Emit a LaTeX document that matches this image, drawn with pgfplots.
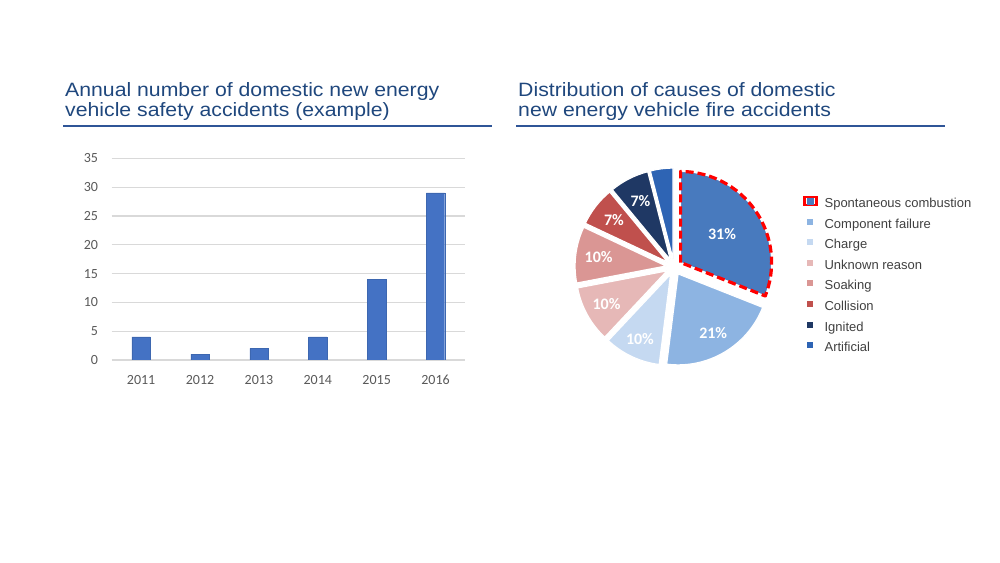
\documentclass[border=0pt]{standalone}
\usepackage{pgfplots}
\usepackage{pgfplotstable}
\pgfplotsset{compat=1.18}
\usepackage{fontspec}
\setmainfont{Carlito}
\newfontfamily\titlefont[FakeStretch=1.1]{Liberation Sans}
\newfontfamily\arial{Liberation Sans}
\newfontfamily\carlito{Carlito}
\newcommand\pielabfont{\carlito\bfseries\fontsize{16}{16}\selectfont}

\definecolor{titleblue}{RGB}{31,71,125}
\definecolor{ruleblue}{RGB}{47,85,151}
\definecolor{barblue}{RGB}{68,114,196}
\definecolor{gridgray}{RGB}{217,217,217}
\definecolor{ticktext}{RGB}{89,89,89}
\definecolor{legtext}{RGB}{64,64,64}
\definecolor{pie0}{RGB}{72,122,190}
\definecolor{pie1}{RGB}{141,180,226}
\definecolor{pie2}{RGB}{197,217,241}
\definecolor{pie3}{RGB}{230,184,183}
\definecolor{pie4}{RGB}{218,150,148}
\definecolor{pie5}{RGB}{192,80,77}
\definecolor{pie6}{RGB}{31,56,100}
\definecolor{pie7}{RGB}{46,100,180}

% accidents per year
\pgfplotstableread{
x year n
0 2011 4
1 2012 1
2 2013 2
3 2014 4
4 2015 14
5 2016 29
}\accidents

% fire causes, share in percent; lr = label distance from the slice tip
\pgfplotstableread{
share lr
31 50
21 69
10 72
10 69
10 68
7 68
7 66
4 0
}\piedata

\pgfplotsset{
  sqleg/.style={legend image code/.code={\fill[##1, draw=none] (0pt,0pt) rectangle (6pt,6pt);}},
}

\begin{document}
\begin{tikzpicture}
\useasboundingbox (0,0) rectangle (1000pt,562pt);

% titles
\node[anchor=base west, inner sep=0pt, text=titleblue, font=\titlefont\fontsize{19.3}{20}\selectfont]
  at (65pt,465.5pt) {Annual number of domestic new energy};
\node[anchor=base west, inner sep=0pt, text=titleblue, font=\titlefont\fontsize{19.3}{20}\selectfont]
  at (65pt,445.3pt) {vehicle safety accidents (example)};
\draw[ruleblue, line width=2.2pt] (63pt,436.3pt) -- (492pt,436.3pt);

\node[anchor=base west, inner sep=0pt, text=titleblue, font=\titlefont\fontsize{19.3}{20}\selectfont]
  at (518pt,465.5pt) {Distribution of causes of domestic};
\node[anchor=base west, inner sep=0pt, text=titleblue, font=\titlefont\fontsize{19.3}{20}\selectfont]
  at (518pt,445.3pt) {new energy vehicle fire accidents};
\draw[ruleblue, line width=2.2pt] (516pt,436.3pt) -- (945pt,436.3pt);

% bar chart
\begin{axis}[
  at={(111.7pt,202pt)}, anchor=south west,
  scale only axis, width=353.3pt, height=201.7pt,
  xmin=-0.5, xmax=5.5, ymin=0, ymax=35,
  ybar, bar width=18.3pt,
  xtick={0,...,5}, xticklabels={2011,2012,2013,2014,2015,2016},
  ytick={0,5,...,35},
  ymajorgrids, grid style={gridgray, line width=1.2pt},
  axis line style={draw=none}, major tick length=0pt,
  /pgf/number format/assume math mode=true,
  tick label style={font=\carlito\fontsize{14}{14}\selectfont, text=ticktext, inner sep=0pt},
  yticklabel style={xshift=-13.5pt},
  xticklabel style={yshift=-15pt},
]
\addplot[fill=barblue, draw=barblue!90!black, line width=0.4pt] table[x=x, y=n] {\accidents};
\end{axis}

% pie chart
\begin{axis}[
  at={(674pt,295pt)}, anchor=center,
  scale only axis, width=240pt, height=240pt,
  xmin=-120, xmax=120, ymin=-120, ymax=120,
  hide axis,
  legend style={at={(axis cs:133,69.6)}, anchor=north west, draw=none, fill=none,
    inner sep=0pt, row sep=7.6pt, column sep=11pt,
    font=\arial\fontsize{13}{15}\selectfont, text=legtext,
    nodes={inner sep=0pt, text height=10pt, text depth=3pt}},
  legend cell align=left,
]
\xdef\piecum{90}
\pgfplotsinvokeforeach{0,...,7}{
  \pgfplotstablegetelem{#1}{share}\of\piedata \let\pieval\pgfplotsretval
  \pgfplotstablegetelem{#1}{lr}\of\piedata \let\pielr\pgfplotsretval
  \pgfmathsetmacro\pieA{\piecum}
  \pgfmathsetmacro\pieB{\piecum-3.6*\pieval}
  \pgfmathsetmacro\pieM{(\pieA+\pieB)/2}
  \pgfmathsetmacro\pieR{8+\pielr}
  \edef\piecmd{\noexpand\fill[pie#1, draw=white, line width=1.2pt]
    (axis cs:0,0) ++(\pieM:8pt) -- ++(\pieA:91pt)
    arc[start angle=\pieA, end angle=\pieB, radius=91pt] -- cycle;}
  \piecmd
  \ifnum#1=0
    \edef\piecmd{\noexpand\draw[red, line width=3.2pt, dash pattern=on 8pt off 4pt, line join=round]
      (axis cs:0,0) ++(\pieM:8pt) -- ++(\pieA:91pt)
      arc[start angle=\pieA, end angle=\pieB, radius=91pt] -- cycle;}
    \piecmd
  \fi
  \ifnum\pielr>0
    \edef\piecmd{\noexpand\path (axis cs:0,0) ++(\pieM:\pieR pt)
      node[text=white, font=\noexpand\pielabfont] {\pieval\noexpand\%};}
    \piecmd
  \fi
  \xdef\piecum{\pieB}
}
\addlegendimage{legend image code/.code={%
  \draw[overlay, red, line width=2.5pt] (-3pt,-1pt) rectangle (9pt,7pt);
  \fill[pie0] (0pt,0pt) rectangle (6pt,6pt);}}
\addlegendimage{sqleg, fill=pie1}
\addlegendimage{sqleg, fill=pie2}
\addlegendimage{sqleg, fill=pie3}
\addlegendimage{sqleg, fill=pie4}
\addlegendimage{sqleg, fill=pie5}
\addlegendimage{sqleg, fill=pie6}
\addlegendimage{sqleg, fill=pie7}
\legend{Spontaneous combustion, Component failure, Charge, Unknown reason,
  Soaking, Collision, Ignited, Artificial}
\end{axis}
\end{tikzpicture}
\end{document}
